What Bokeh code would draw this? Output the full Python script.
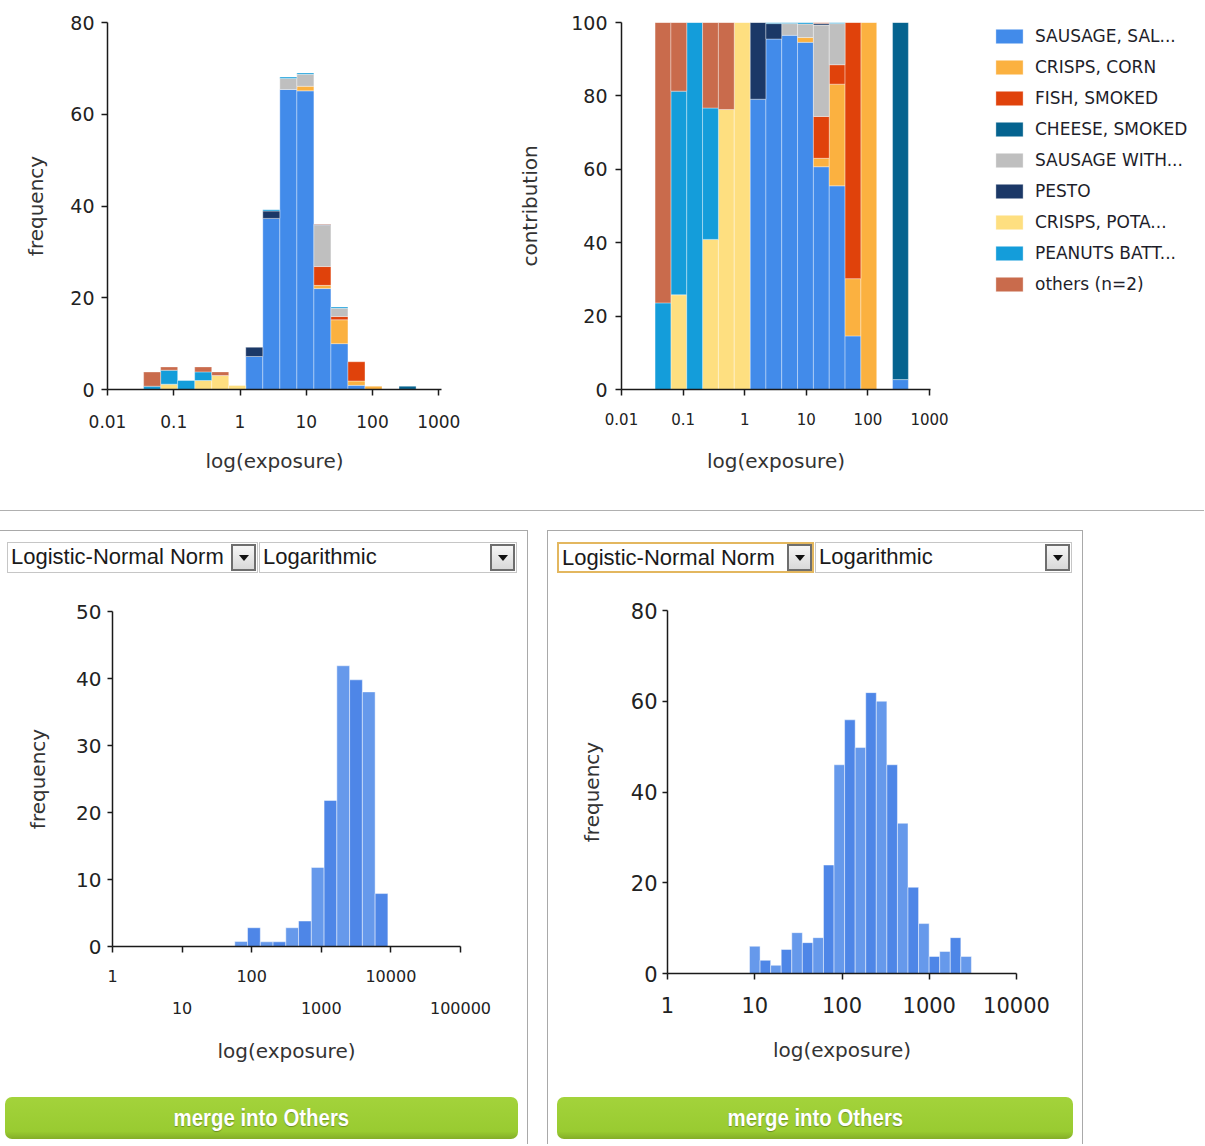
import numpy as np
from bokeh.plotting import figure
from bokeh.models import (ColumnDataSource, FixedTicker, LogAxis, Legend, LegendItem,
                          Div, Range1d)
from bokeh.layouts import column, row
from bokeh.embed import file_html
from bokeh.resources import INLINE

# ------------------------------------------------------------------ data
# upper charts: shared histogram bins (log10 of exposure)
top_bin_log_start = -1.455
top_bin_log_width = 0.257
top_bin_count = 16

food_labels = ["SAUSAGE, SAL...", "CRISPS, CORN", "FISH, SMOKED", "CHEESE, SMOKED",
               "SAUSAGE WITH...", "PESTO", "CRISPS, POTA...", "PEANUTS BATT...",
               "others (n=2)"]

# upper-left: frequency per bin, per food
freq_sausage_sal   = [0, 0, 0, 0, 0, 0, 7.2, 37.3, 65.4, 65.1, 22.0, 10.0, 0.9, 0, 0, 0.02]
freq_crisps_corn   = [0, 0, 0, 0, 0, 0, 0, 0, 0, 1.0, 0.7, 5.2, 0.95, 0.72, 0, 0]
freq_fish_smoked   = [0, 0, 0, 0, 0, 0, 0, 0, 0, 0, 4.1, 0.7, 4.2, 0, 0, 0]
freq_cheese_smoked = [0, 0, 0, 0, 0, 0, 0, 0, 0, 0, 0, 0, 0, 0, 0, 0.7]
freq_sausage_with  = [0, 0, 0, 0, 0, 0, 0, 0, 2.4, 2.6, 9.0, 1.8, 0, 0, 0, 0]
freq_pesto         = [0, 0, 0, 0, 0, 0, 2.0, 1.6, 0, 0, 0.15, 0, 0, 0, 0, 0]
freq_crisps_pota   = [0, 1.16, 0, 1.96, 3.04, 0.87, 0, 0, 0, 0, 0, 0, 0, 0, 0, 0]
freq_peanuts       = [0.72, 3.04, 1.96, 1.88, 0, 0, 0, 0.3, 0.3, 0.3, 0, 0.3, 0, 0, 0, 0]
freq_others        = [3.1, 0.72, 0, 1.09, 0.8, 0, 0, 0, 0, 0, 0.15, 0, 0, 0, 0, 0]

# upper-right: contribution (%) per bin, per food
pct_sausage_sal   = [0, 0, 0, 0, 0, 0, 79.1, 95.5, 96.5, 94.6, 60.7, 55.5, 14.6, 0, 0, 2.7]
pct_crisps_corn   = [0, 0, 0, 0, 0, 0, 0, 0, 0, 1.3, 2.3, 27.7, 15.6, 100, 0, 0]
pct_fish_smoked   = [0, 0, 0, 0, 0, 0, 0, 0, 0, 0, 11.4, 5.3, 69.8, 0, 0, 0]
pct_cheese_smoked = [0, 0, 0, 0, 0, 0, 0, 0, 0, 0, 0, 0, 0, 0, 0, 97.3]
pct_sausage_with  = [0, 0, 0, 0, 0, 0, 0, 0, 3.2, 3.7, 24.9, 11.2, 0, 0, 0, 0]
pct_pesto         = [0, 0, 0, 0, 0, 0, 20.9, 4.2, 0, 0, 0.4, 0, 0, 0, 0, 0]
pct_crisps_pota   = [0, 25.8, 0, 40.9, 76.3, 100, 0, 0, 0, 0, 0, 0, 0, 0, 0, 0]
pct_peanuts       = [23.6, 55.5, 100, 35.8, 0, 0, 0, 0.3, 0.3, 0.4, 0, 0.3, 0, 0, 0, 0]
pct_others        = [76.4, 18.7, 0, 23.3, 23.7, 0, 0, 0, 0, 0, 0.3, 0, 0, 0, 0, 0]

top_x_ticks = [0.01, 0.1, 1, 10, 100, 1000]
top_x_labels = ["0.01", "0.1", "1", "10", "100", "1000"]
tl_y_ticks = [0, 20, 40, 60, 80]
tr_y_ticks = [0, 20, 40, 60, 80, 100]

# lower-left histogram
bl_bin_log_start = 1.757
bl_bin_log_width = 0.1833
bl_freq = [0.75, 2.8, 0.7, 0.7, 2.8, 3.8, 11.8, 21.8, 41.9, 39.8, 38.0, 7.9]
bl_x_ticks_upper = [1, 100, 10000]
bl_x_labels_upper = ["1", "100", "10000"]
bl_x_ticks_lower = [10, 1000, 100000]
bl_x_labels_lower = ["10", "1000", "100000"]
bl_y_ticks = [0, 10, 20, 30, 40, 50]

# lower-right histogram
br_bin_log_start = 0.94
br_bin_log_width = 0.1211
br_freq = [6.0, 2.9, 1.8, 5.3, 9.0, 6.8, 7.9, 23.9, 46.0, 55.9, 49.8, 61.9, 60.0,
           46.0, 33.1, 19.0, 11.0, 3.75, 4.85, 7.9, 3.75]
br_x_ticks = [1, 10, 100, 1000, 10000]
br_x_labels = ["1", "10", "100", "1000", "10000"]
br_y_ticks = [0, 20, 40, 60, 80]

distribution_choice = "Logistic-Normal Norm"
scale_choice = "Logarithmic"
button_text = "merge into Others"

# ------------------------------------------------------------------ styles
food_colors = ["#428bea", "#fbb140", "#e0420b", "#05638f", "#bfbfbf",
               "#1b3867", "#fedf80", "#149dda", "#c96b4c"]
hist_light = "#6699eb"
hist_dark = "#4e86e7"
AXIS_FONT = "DejaVu Sans"
AX_COLOR = "#1a1a1a"
GRAY_BORDER = "#a9a9a9"


def make_fig(width, height, x_range, y_range, left, right, top, bottom, axes=True):
    kw = {}
    if not axes:
        kw = dict(x_axis_location=None, y_axis_location=None)
    p = figure(width=width, height=height, x_axis_type="log",
               x_range=x_range, y_range=y_range,
               output_backend="svg", toolbar_location=None,
               min_border_left=left, min_border_right=right,
               min_border_top=top, min_border_bottom=bottom, **kw)
    p.outline_line_color = None
    p.grid.visible = False
    p.background_fill_color = "white"
    p.border_fill_color = "white"
    return p


def style_axis(ax, tick_font, label_font, tick_out, standoff, label_standoff, label):
    ax.axis_line_color = AX_COLOR
    ax.axis_line_width = 1.5
    ax.major_tick_line_color = AX_COLOR
    ax.major_tick_line_width = 1.5
    ax.major_tick_in = 0
    ax.major_tick_out = tick_out
    ax.minor_tick_line_color = None
    ax.major_label_text_font = AXIS_FONT
    ax.major_label_text_font_size = tick_font
    ax.major_label_text_color = "#222222"
    ax.major_label_standoff = standoff
    ax.axis_label = label
    ax.axis_label_text_font = AXIS_FONT
    ax.axis_label_text_font_size = label_font
    ax.axis_label_text_font_style = "normal"
    ax.axis_label_text_color = "#333333"
    ax.axis_label_standoff = label_standoff


QUAD_STYLE = dict(line_color="white", line_alpha=0.35, line_width=1)


def stacked(p, series, edges_log, colors):
    edges = 10 ** np.asarray(edges_log)
    base = np.zeros(len(edges) - 1)
    sources = []
    for vals, col in zip(series, colors):
        v = np.asarray(vals, dtype=float)
        m = v > 0
        src = ColumnDataSource(dict(left=edges[:-1][m], right=edges[1:][m],
                                    bottom=base[m], top=(base + v)[m]))
        p.quad(left="left", right="right", bottom="bottom", top="top", source=src,
               fill_color=col, **QUAD_STYLE)
        sources.append(src)
        base = base + v
    return sources


def histogram(p, vals, start, width):
    n = len(vals)
    edges_log = start + width * np.arange(n + 1)
    cols = [hist_light if i % 2 == 0 else hist_dark for i in range(n)]
    src = ColumnDataSource(dict(left=10 ** edges_log[:-1], right=10 ** edges_log[1:],
                                bottom=np.zeros(n), top=np.asarray(vals, float), color=cols))
    p.quad(left="left", right="right", bottom="bottom", top="top", source=src,
           fill_color="color", line_color="white", line_alpha=0.45, line_width=1)


top_edges_log = top_bin_log_start + top_bin_log_width * np.arange(top_bin_count + 1)

# ------------------------------------------------------------------ upper-left
p_tl = make_fig(510, 498, Range1d(0.01, 10 ** 3.041), Range1d(0, 80), 107, 69, 21, 109)
stacked(p_tl, [freq_sausage_sal, freq_crisps_corn, freq_fish_smoked, freq_cheese_smoked,
               freq_sausage_with, freq_pesto, freq_crisps_pota, freq_peanuts, freq_others],
        top_edges_log, food_colors)
style_axis(p_tl.xaxis[0], "17px", "20px", 6, 19, 18, "log(exposure)")
p_tl.xaxis[0].ticker = FixedTicker(ticks=top_x_ticks)
p_tl.xaxis[0].major_label_overrides = dict(zip(top_x_ticks, top_x_labels))
style_axis(p_tl.yaxis[0], "19px", "20px", 6, 7, 19, "frequency")
p_tl.yaxis[0].ticker = FixedTicker(ticks=tl_y_ticks)

# ------------------------------------------------------------------ upper-right
tr_range_x = Range1d(0.01, 10 ** 3.016)
tr_range_y = Range1d(0, 100)
p_tr = make_fig(478, 498, tr_range_x, tr_range_y, 111, 58, 22, 109)
tr_sources = stacked(p_tr, [pct_sausage_sal, pct_crisps_corn, pct_fish_smoked, pct_cheese_smoked,
                            pct_sausage_with, pct_pesto, pct_crisps_pota, pct_peanuts, pct_others],
                     top_edges_log, food_colors)
style_axis(p_tr.xaxis[0], "15px", "20px", 6, 17, 21, "log(exposure)")
p_tr.xaxis[0].ticker = FixedTicker(ticks=top_x_ticks)
p_tr.xaxis[0].major_label_overrides = dict(zip(top_x_ticks, top_x_labels))
style_axis(p_tr.yaxis[0], "19px", "20px", 6, 8, 26, "contribution")
p_tr.yaxis[0].ticker = FixedTicker(ticks=tr_y_ticks)

# legend of the upper-right chart, on its own canvas next to it
# (its renderers share the chart's sources; they are hidden, only the swatches show)
p_leg = make_fig(216, 498, tr_range_x, tr_range_y, 0, 0, 0, 0, axes=False)
p_leg.title_location = None
leg_rends = []
for src, col in zip(tr_sources, food_colors):
    leg_rends.append(p_leg.quad(left="left", right="right", bottom="bottom", top="top",
                                source=src, fill_color=col, visible=False, **QUAD_STYLE))
legend = Legend(items=[LegendItem(label=lab, renderers=[r]) for lab, r in zip(food_labels, leg_rends)],
                location="top_left", orientation="vertical", padding=0, margin=4, spacing=11,
                glyph_width=34, glyph_height=18, label_height=20, label_standoff=9,
                label_text_font=AXIS_FONT, label_text_font_size="17px",
                label_text_color="#1e1e2a", border_line_color=None,
                background_fill_alpha=0)
p_leg.add_layout(legend)

# ------------------------------------------------------------------ lower-left
p_bl = make_fig(527, 510, Range1d(1, 1e5), Range1d(0, 50), 112, 67, 31, 144)
histogram(p_bl, bl_freq, bl_bin_log_start, bl_bin_log_width)
all_bl_ticks = sorted(bl_x_ticks_upper + bl_x_ticks_lower)
style_axis(p_bl.xaxis[0], "16px", "20px", 6, 17, 0, None)
p_bl.xaxis[0].ticker = FixedTicker(ticks=all_bl_ticks)
ov = {t: "" for t in all_bl_ticks}
ov.update(dict(zip(bl_x_ticks_upper, bl_x_labels_upper)))
p_bl.xaxis[0].major_label_overrides = ov
ax2 = LogAxis(ticker=FixedTicker(ticks=bl_x_ticks_lower))
style_axis(ax2, "16px", "20px", 0, 17, 22, "log(exposure)")
ax2.axis_line_color = None
ax2.major_tick_line_color = None
ax2.major_label_overrides = dict(zip(bl_x_ticks_lower, bl_x_labels_lower))
p_bl.add_layout(ax2, "below")
style_axis(p_bl.yaxis[0], "20px", "20px", 5, 6, 23, "frequency")
p_bl.yaxis[0].ticker = FixedTicker(ticks=bl_y_ticks)

# ------------------------------------------------------------------ lower-right
p_br = make_fig(534, 510, Range1d(1, 1e4), Range1d(0, 80), 119, 66, 30, 117)
histogram(p_br, br_freq, br_bin_log_start, br_bin_log_width)
style_axis(p_br.xaxis[0], "21px", "20px", 6, 17, 22, "log(exposure)")
p_br.xaxis[0].ticker = FixedTicker(ticks=br_x_ticks)
p_br.xaxis[0].major_label_overrides = dict(zip(br_x_ticks, br_x_labels))
style_axis(p_br.yaxis[0], "21px", "20px", 5, 5, 24, "frequency")
p_br.yaxis[0].ticker = FixedTicker(ticks=br_y_ticks)


# ------------------------------------------------------------------ HTML controls
def select_html(x, y, w, text, focused=False):
    border = "2px solid #e3b75f" if focused else "1px solid #c6c6c6"
    return (
        f'<div style="position:absolute;left:{x}px;top:{y}px;width:{w}px;height:31px;'
        f'box-sizing:border-box;border:{border};background:#fff;'
        "font-family:'Liberation Sans',Arial,sans-serif;font-size:22px;color:#1a1a1a;"
        'line-height:28px;padding-left:3px;white-space:nowrap;overflow:hidden;">'
        f'{text}</div>'
        f'<div style="position:absolute;left:{x + w - 27}px;top:{y + 2}px;width:25px;height:27px;'
        'box-sizing:border-box;border:2px solid #6e6e6e;'
        'background:linear-gradient(#f6f6f6,#d9d9d9);">'
        '<div style="position:absolute;left:6px;top:9px;width:0;height:0;'
        'border-left:5px solid transparent;border-right:5px solid transparent;'
        'border-top:6px solid #111;"></div></div>'
    )


def panel_top(w, left_border, selects):
    lb = f"border-left:1px solid {GRAY_BORDER};" if left_border else ""
    inner = "".join(select_html(*s) for s in selects)
    html = (f'<div style="position:relative;width:{w}px;height:50px;box-sizing:border-box;'
            f'border-top:1px solid {GRAY_BORDER};border-right:1px solid {GRAY_BORDER};{lb}">'
            f'{inner}</div>')
    return Div(text=html, width=w, height=50, margin=0)


def panel_button(w, h, left_border, bx, bw):
    lb = f"border-left:1px solid {GRAY_BORDER};" if left_border else ""
    html = (
        f'<div style="position:relative;width:{w}px;height:{h}px;box-sizing:border-box;'
        f'border-right:1px solid {GRAY_BORDER};{lb}">'
        f'<div style="position:absolute;left:{bx}px;top:7px;width:{bw}px;height:42px;'
        'box-sizing:border-box;border-radius:7px;'
        'background:linear-gradient(#a3d33b,#99cb31 82%,#84ae27);'
        "color:#fff;font-family:'Liberation Sans Narrow','Liberation Sans',sans-serif;"
        'font-weight:bold;font-size:24px;text-align:center;line-height:41px;'
        'text-shadow:0 1px 1px rgba(0,0,0,0.3);">'
        f'<span style="display:inline-block;transform:scaleX(0.85);">{button_text}</span>'
        '</div></div>'
    )
    return Div(text=html, width=w, height=h, margin=0)


def vline(h):
    return Div(text=f'<div style="width:1px;height:{h}px;background:{GRAY_BORDER};"></div>',
               width=1, height=h, margin=0)


sep = Div(text='<div style="position:relative;width:1204px;height:32px;">'
               '<div style="position:absolute;left:0;top:12px;width:1204px;'
               'border-top:1px solid #b0b0b0;"></div></div>',
          width=1204, height=32, margin=0)

dd1 = panel_top(528, False, [(7, 11, 251, distribution_choice, False),
                             (259, 11, 258, scale_choice, False)])
dd2 = panel_top(536, True, [(9, 11, 257, distribution_choice, True),
                            (267, 11, 257, scale_choice, False)])
btn1 = panel_button(528, 54, False, 5, 513)
btn2 = panel_button(536, 54, True, 9, 516)

panel1 = column(dd1, row(p_bl, vline(510)), btn1)
panel2 = column(dd2, row(vline(510), p_br, vline(510)), btn2)
gap = Div(text="", width=19, height=614, margin=0)

layout = column(row(p_tl, p_tr, p_leg), sep, row(panel1, gap, panel2))

open("out.html", "w").write(file_html(layout, INLINE))
